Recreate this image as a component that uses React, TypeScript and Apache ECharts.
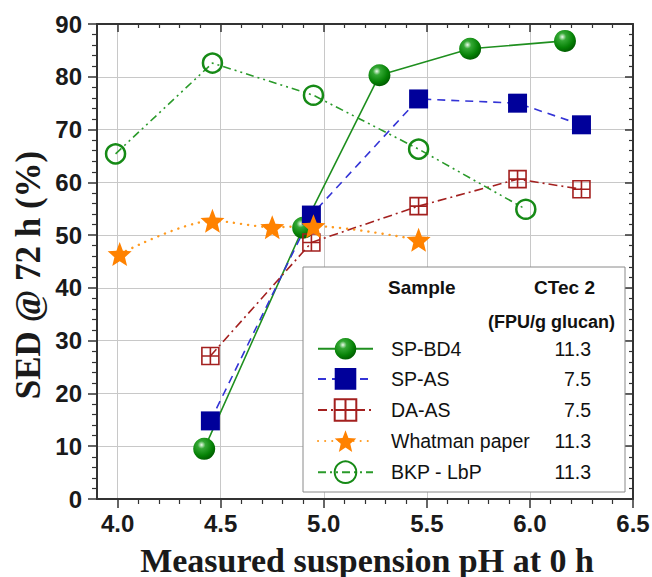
import React, { useEffect, useRef } from 'react';
import * as echarts from 'echarts';

// ---- data ----
const xMajorTicks = [4.0, 4.5, 5.0, 5.5, 6.0, 6.5];
const xMinorTicks = [4.1, 4.2, 4.3, 4.4, 4.6, 4.7, 4.8, 4.9, 5.1, 5.2, 5.3, 5.4, 5.6, 5.7, 5.8, 5.9, 6.1, 6.2, 6.3, 6.4];
const seriesNames = ['SP-BD4', 'SP-AS', 'DA-AS', 'Whatman paper', 'BKP - LbP'];
const ctecDoses = ['11.3', '7.5', '7.5', '11.3', '11.3'];

const spBD4 = [[4.42, 9.5], [4.9, 51.4], [5.27, 80.3], [5.71, 85.3], [6.17, 86.8]];
const spAS = [[4.45, 14.8], [4.94, 53.8], [5.46, 75.8], [5.94, 75.0], [6.25, 70.9]];
const daAS = [[4.45, 27.1], [4.94, 48.6], [5.46, 55.5], [5.94, 60.6], [6.25, 58.7]];
const whatman = [[4.01, 46.4], [4.46, 52.7], [4.75, 51.5], [4.95, 51.7], [5.46, 49.1]];
const bkp = [[3.99, 65.4], [4.46, 82.6], [4.95, 76.5], [5.46, 66.3], [5.98, 54.9]];

const SANS = '"Liberation Sans", Arial, sans-serif';
const SERIF = '"Liberation Serif", "Times New Roman", serif';

const STAR = 'path://M50,0 L62.93,32.2 L97.55,34.55 L70.92,56.8 L79.39,90.45 L50,72 L20.61,90.45 L29.08,56.8 L2.45,34.55 L37.07,32.2 Z';
const CROSS_SQ = 'path://M0,0 L16,0 L16,16 L0,16 Z M8,0 L8,16 M0,8 L16,8';

export default function App() {
  const ref = useRef<HTMLDivElement>(null);
  useEffect(() => {
    if (!ref.current) return;
    const chart = echarts.init(ref.current, null, { renderer: 'svg' });
    const axisLine = { show: true, lineStyle: { color: '#333', width: 2 } };
    const gridLeft = 97, gridTop = 24, gridRight = 19, gridBottom = 78;

    const sphere = {
      type: 'radial', x: 0.38, y: 0.32, r: 0.7,
      colorStops: [
        { offset: 0, color: '#eefcee' },
        { offset: 0.25, color: '#34a834' },
        { offset: 0.7, color: '#068206' },
        { offset: 1, color: '#005c00' },
      ],
    };

    const option: any = {
      animation: false,
      grid: { left: gridLeft, top: gridTop, right: gridRight, bottom: gridBottom, containLabel: false, outerBoundsMode: 'none' },
      xAxis: [
        {
          type: 'value', position: 'bottom', min: 3.9, max: 6.5,
          axisLine,
          axisTick: { show: true, inside: false, length: 9, customValues: xMajorTicks, lineStyle: { color: '#333', width: 1.5 } },
          axisLabel: {
            customValues: xMajorTicks, margin: 12, fontSize: 24, fontWeight: 'bold', fontFamily: SANS, color: '#1a1a1a',
            formatter: (v: number) => v.toFixed(1),
          },
          splitLine: { show: true, lineStyle: { color: '#c8c8c8', width: 1 } },
        },
        {
          type: 'value', position: 'bottom', min: 3.9, max: 6.5,
          axisLine: { show: false },
          axisTick: { show: true, inside: false, length: 5, customValues: xMinorTicks, lineStyle: { color: '#333', width: 1.2 } },
          axisLabel: { show: false },
          splitLine: { show: false },
        },
        {
          type: 'value', position: 'top', min: 3.9, max: 6.5,
          axisLine,
          axisTick: { show: true, inside: true, length: 8, customValues: xMajorTicks, lineStyle: { color: '#333', width: 1.5 } },
          axisLabel: { show: false },
          splitLine: { show: false },
        },
        {
          type: 'value', position: 'top', min: 3.9, max: 6.5,
          axisLine: { show: false },
          axisTick: { show: true, inside: true, length: 4, customValues: xMinorTicks, lineStyle: { color: '#333', width: 1.2 } },
          axisLabel: { show: false },
          splitLine: { show: false },
        },
      ],
      yAxis: [
        {
          type: 'value', position: 'left', min: 0, max: 90, interval: 10,
          axisLine,
          axisTick: { show: true, inside: false, length: 9, lineStyle: { color: '#333', width: 1.5 } },
          minorTick: { show: true, splitNumber: 5, length: 5, lineStyle: { color: '#333', width: 1.2 } },
          axisLabel: { margin: 15, fontSize: 24, fontWeight: 'bold', fontFamily: SANS, color: '#1a1a1a' },
          splitLine: { show: true, lineStyle: { color: '#c8c8c8', width: 1 } },
        },
        {
          type: 'value', position: 'right', min: 0, max: 90, interval: 10,
          axisLine,
          axisTick: { show: true, inside: true, length: 8, lineStyle: { color: '#333', width: 1.5 } },
          minorTick: { show: true, splitNumber: 5, length: 4, lineStyle: { color: '#333', width: 1.2 } },
          axisLabel: { show: false },
          splitLine: { show: false },
        },
      ],
      legend: {
        left: 317, top: 338, orient: 'vertical', padding: 0,
        itemWidth: 55, itemHeight: 27, itemGap: 8.5,
        data: seriesNames,
        textStyle: {
          fontSize: 19.5, fontFamily: SANS, color: '#111',
          rich: {
            n: { fontSize: 19.5, fontFamily: SANS, color: '#111', width: 150, padding: [0, 0, 0, 13] },
            v: { fontSize: 19.5, fontFamily: SANS, color: '#111', width: 50, align: 'right' },
          },
        },
        formatter: (name: string) => {
          const i = seriesNames.indexOf(name);
          return `{n|${name}}{v|${ctecDoses[i]}}`;
        },
      },
      graphic: [
        {
          type: 'rect', z: 1,
          shape: { x: 303, y: 267, width: 322, height: 225 },
          style: { fill: '#fff', stroke: '#8a8a8a', lineWidth: 1 },
        },
        {
          type: 'text', z: 5, x: 388, y: 287,
          style: { text: 'Sample', font: `bold 19px ${SANS}`, fill: '#111', align: 'left', verticalAlign: 'middle' },
        },
        {
          type: 'text', z: 5, x: 595, y: 287,
          style: { text: 'CTec 2', font: `bold 19px ${SANS}`, fill: '#111', align: 'right', verticalAlign: 'middle' },
        },
        {
          type: 'text', z: 5, x: 615, y: 322,
          style: { text: '(FPU/g glucan)', font: `bold 18px ${SANS}`, fill: '#111', align: 'right', verticalAlign: 'middle' },
        },
        {
          type: 'text', z: 5, x: 367, y: 560,
          style: { text: 'Measured suspension pH at 0 h', font: `bold 34px ${SERIF}`, fill: '#1a1a1a', align: 'center', verticalAlign: 'middle' },
        },
        {
          type: 'text', z: 5, x: 28, y: 275, rotation: Math.PI / 2,
          style: { text: 'SED @ 72 h (%)', font: `bold 35px ${SERIF}`, fill: '#1a1a1a', align: 'center', verticalAlign: 'middle' },
        },
      ],
      series: [
        {
          name: seriesNames[0], type: 'line', data: spBD4, symbol: 'circle', symbolSize: 22,
          itemStyle: { color: sphere },
          lineStyle: { color: '#1f8f1f', width: 1.6, type: 'solid' },
        },
        {
          name: seriesNames[1], type: 'line', data: spAS, symbol: 'rect', symbolSize: 19,
          itemStyle: { color: '#00009a' },
          lineStyle: { color: '#3434d6', width: 1.6, type: [8, 6] },
        },
        {
          name: seriesNames[2], type: 'line', data: daAS, symbol: CROSS_SQ, symbolSize: 17,
          itemStyle: { color: 'rgba(255,255,255,0)', borderColor: '#a3201f', borderWidth: 1.6 },
          lineStyle: { color: '#a3201f', width: 1.6, type: [9, 4, 2, 4] },
        },
        {
          name: seriesNames[3], type: 'line', data: whatman, symbol: STAR, symbolSize: 24, smooth: 0.3,
          itemStyle: { color: '#ff8200' },
          lineStyle: { color: '#ff9a1f', width: 2.4, type: [0.1, 7], cap: 'round' },
        },
        {
          name: seriesNames[4], type: 'line', data: bkp, symbol: 'circle', symbolSize: 19,
          itemStyle: { color: 'rgba(255,255,255,0)', borderColor: '#168a16', borderWidth: 2.5 },
          lineStyle: { color: '#2a9a2a', width: 1.6, type: [8, 4, 2, 4, 2, 4] },
        },
      ],
    };
    chart.setOption(option);
    return () => chart.dispose();
  }, []);
  return <div ref={ref} style={{ position: 'absolute', left: 0, top: 0, width: 652, height: 577 }} />;
}
